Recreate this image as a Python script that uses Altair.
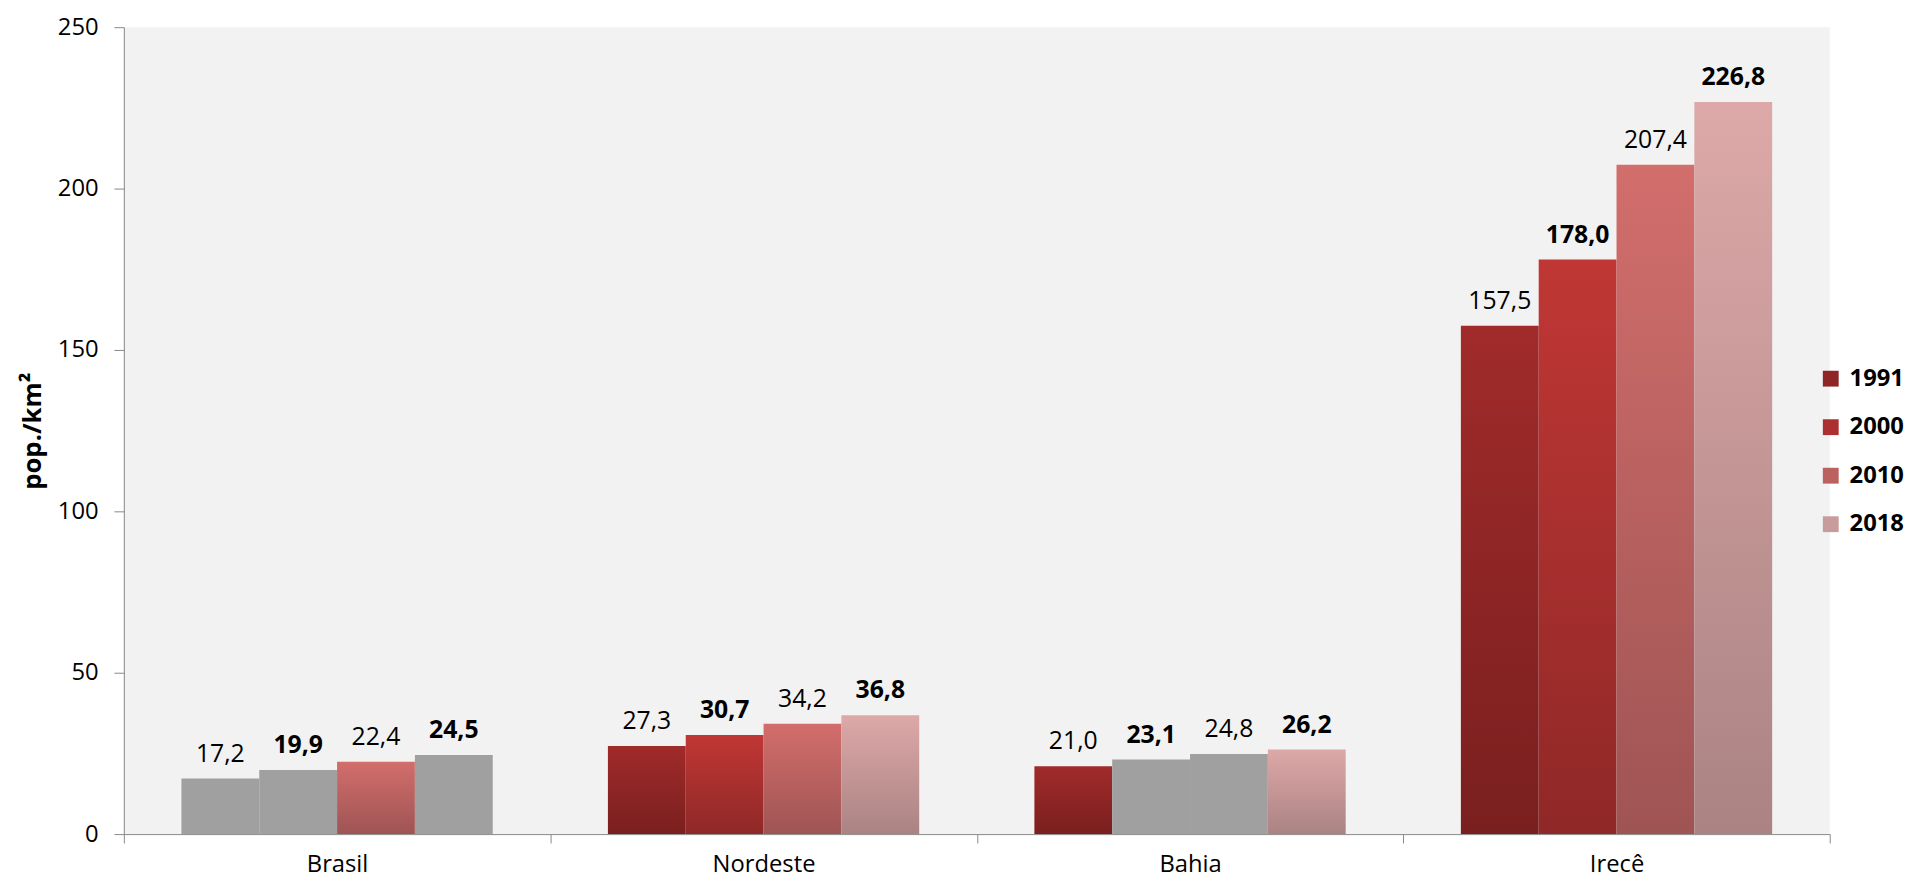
import altair as alt
import pandas as pd

regions = ["Brasil", "Nordeste", "Bahia", "Irecê"]
years = ["1991", "2000", "2010", "2018"]
d1991 = [17.2, 27.3, 21.0, 157.5]
d2000 = [19.9, 30.7, 23.1, 178.0]
d2010 = [22.4, 34.2, 24.8, 207.4]
d2018 = [24.5, 36.8, 26.2, 226.8]
# bars drawn in plain gray in the original
gray1991 = [True, False, False, False]
gray2000 = [True, False, True, False]
gray2010 = [False, False, True, False]
gray2018 = [True, False, False, False]
bold_years = ["2000", "2018"]
y_ticks = [0, 50, 100, 150, 200, 250]

grad_top = ["#a02b2a", "#c03735", "#d26e6c", "#dda8a8"]
grad_bottom = ["#7a1f1f", "#8f2827", "#9f5454", "#ab8383"]
legend_colors = ["#8f2626", "#ac302f", "#bb6261", "#c89c9c"]
gray_color = "#a0a0a0"

rows = []
for yr, vals, grays in zip(years, [d1991, d2000, d2010, d2018],
                           [gray1991, gray2000, gray2010, gray2018]):
    for reg, v, g in zip(regions, vals, grays):
        rows.append({"regiao": reg, "ano": yr, "dens": v, "cinza": g,
                     "rotulo": f"{v:.1f}".replace(".", ",")})
df = pd.DataFrame(rows)


def grad(top, bottom):
    return {"gradient": "linear", "x1": 0, "y1": 0, "x2": 0, "y2": 1,
            "stops": [{"offset": 0, "color": top}, {"offset": 1, "color": bottom}]}


FONT = "Open Sans"
W, H = 1723, 815

x = alt.X("regiao:N", sort=regions,
          scale=alt.Scale(paddingInner=0, paddingOuter=0),
          axis=alt.Axis(title=None, tickBand="extent", tickSize=9, tickColor="#888888",
                        domainColor="#888888", labelFont=FONT, labelFontSize=24,
                        labelColor="#000000", labelPadding=10, labelAngle=0))
xo = alt.XOffset("ano:N", sort=years,
                 scale=alt.Scale(domain=years, paddingInner=0, paddingOuter=0.74))
y = alt.Y("dens:Q", scale=alt.Scale(domain=[0, 250], nice=False),
          axis=alt.Axis(values=y_ticks, title="pop./km²", titleFont=FONT,
                        titleFontSize=26, titleFontWeight="bold", titleColor="#000000",
                        titlePadding=12, labelFont=FONT, labelFontSize=24,
                        labelColor="#000000", labelPadding=16, tickSize=10,
                        tickColor="#888888", domainColor="#888888"))

base = alt.Chart(df)

# invisible zero-height bars that carry the legend
legend_layer = base.mark_bar().transform_calculate(zero="0").encode(
    x=x, xOffset=xo,
    y=alt.Y("zero:Q", scale=alt.Scale(domain=[0, 250], nice=False)),
    color=alt.Color("ano:N", sort=years,
                    scale=alt.Scale(domain=years, range=legend_colors),
                    legend=alt.Legend(title=None, orient="none", legendX=1712, legendY=343,
                                      symbolType="square", symbolSize=256,
                                      symbolStrokeWidth=0, labelFont=FONT,
                                      labelFontSize=24, labelFontWeight="bold",
                                      labelColor="#000000", labelOffset=7,
                                      rowPadding=25, padding=0)),
)

fill_cond = [{"test": "datum.cinza", "value": gray_color}]
for yr, t, b in zip(years[:-1], grad_top[:-1], grad_bottom[:-1]):
    fill_cond.append({"test": f"datum.ano === '{yr}'", "value": grad(t, b)})

bars = base.mark_bar().encode(
    x=x, xOffset=xo, y=y,
    fill={"condition": fill_cond, "value": grad(grad_top[-1], grad_bottom[-1])},
)

labels_normal = base.transform_filter(
    alt.FieldOneOfPredicate(field="ano", oneOf=[yy for yy in years if yy not in bold_years])
).mark_text(font=FONT, fontSize=25, baseline="alphabetic", dy=-17, color="#000000").encode(
    x=x, xOffset=xo, y=y, text="rotulo:N")

labels_bold = base.transform_filter(
    alt.FieldOneOfPredicate(field="ano", oneOf=bold_years)
).mark_text(font=FONT, fontSize=25, fontWeight="bold", baseline="alphabetic", dy=-17,
            color="#000000").encode(
    x=x, xOffset=xo, y=y, text="rotulo:N")

chart = alt.layer(legend_layer, bars, labels_normal, labels_bold).properties(
    width=W, height=H,
    padding={"left": 11, "top": 3, "right": 2, "bottom": 2},
).configure_view(fill="#f2f2f2", stroke=None).configure_axis(grid=False)

chart.save("out.html", embed_options={"renderer": "svg", "actions": False})
